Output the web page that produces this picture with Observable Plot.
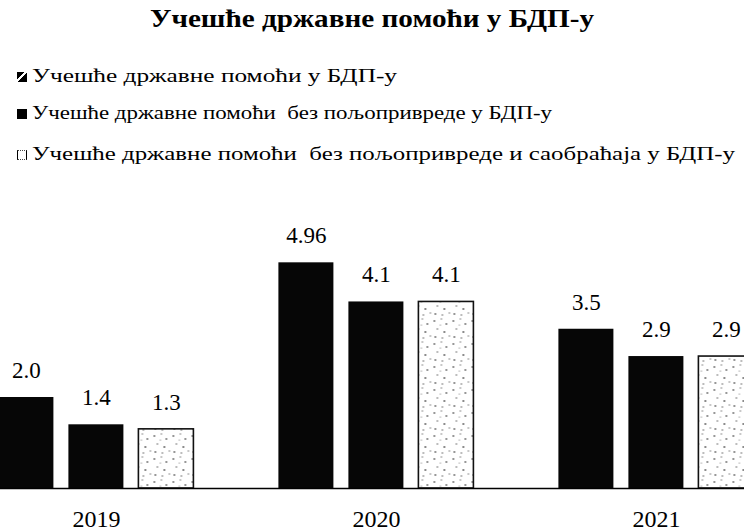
<!DOCTYPE html>
<html>
<head>
<meta charset="utf-8">
<script src="https://cdn.jsdelivr.net/npm/d3@7"></script>
<script src="https://cdn.jsdelivr.net/npm/@observablehq/plot@0.6"></script>
<style>
  html, body { margin: 0; padding: 0; background: #fff; overflow: hidden; }
  #wrap { position: relative; width: 744px; height: 532px; overflow: hidden;
          font-family: "Liberation Serif", serif; color: #000; }
  #head { position: relative; width: 744px; height: 180px; }
  .fit { position: absolute; white-space: pre; line-height: 1; transform-origin: 0 0; }
  #title { font-weight: bold; font-size: 25px; }
  .leg { font-size: 18px; }
  .mk { position: absolute; width: 10px; height: 10px; box-sizing: border-box; }
  svg { display: block; overflow: hidden; }
  svg text { font-family: "Liberation Serif", serif !important; }
</style>
</head>
<body>
<div id="wrap">
  <div id="head"></div>
  <div id="chart"></div>
</div>
<script>
// ---- data ----
const titleText = "Учешће државне помоћи у БДП-у";
const years = ["2019", "2020", "2021"];
const seriesNames = [
  "Учешће државне помоћи у БДП-у",
  "Учешће државне помоћи  без пољопривреде у БДП-у",
  "Учешће државне помоћи  без пољопривреде и саобраћаја у БДП-у"
];
const totalShare = [2.0, 4.96, 3.5];
const withoutAgriculture = [1.4, 4.1, 2.9];
const withoutAgricultureTransport = [1.3, 4.1, 2.9];
const seriesValues = [totalShare, withoutAgriculture, withoutAgricultureTransport];

const rows = [];
years.forEach((year, i) => {
  seriesNames.forEach((s, k) => rows.push({ year, series: s, k, value: seriesValues[k][i] }));
});

const fmt = v => Math.abs(v * 10 - Math.round(v * 10)) < 1e-9 ? v.toFixed(1) : String(v);

// ---- header (title + legend) ----
const head = document.getElementById("head");
function fitText(el, left, right) {
  el.style.left = left + "px";
  const w = el.getBoundingClientRect().width;
  el.style.transform = `scaleX(${(right - left) / w})`;
}
const title = document.createElement("div");
title.id = "title"; title.className = "fit"; title.textContent = titleText;
title.style.top = "6px";
head.appendChild(title);
fitText(title, 150, 594);

const legTops = [67, 104, 145];
const legRights = [397, 552, 735];
const markerStyles = [
  "background: linear-gradient(135deg, #000 40%, #fff 40%, #fff 55%, #000 55%);",
  "background: #000;",
  "background: #fff; border-left: 1.5px solid #000; border-right: 1.5px solid #000; border-top: 1px dotted #444; border-bottom: 1px dotted #444;"
];
seriesNames.forEach((s, k) => {
  const mk = document.createElement("div");
  mk.className = "mk";
  mk.style.cssText += markerStyles[k];
  mk.style.left = "17px";
  mk.style.top = (legTops[k] + 5) + "px";
  head.appendChild(mk);
  const t = document.createElement("div");
  t.className = "fit leg"; t.textContent = s;
  t.style.top = legTops[k] + "px";
  head.appendChild(t);
  fitText(t, 32, legRights[k]);
});

// ---- chart ----
const plot = Plot.plot({
  width: 744,
  height: 352,
  marginTop: 80.5,
  marginBottom: 44,
  marginLeft: -2.4,
  marginRight: -10.9,
  style: { fontFamily: "Liberation Serif, serif", background: "#fff", color: "#000", overflow: "hidden" },
  fx: { domain: years, paddingInner: 0.3, paddingOuter: 0, label: null },
  x: { domain: seriesNames, paddingInner: 0.22, paddingOuter: 0, axis: null },
  y: { domain: [0, 5], axis: null },
  marks: [
    Plot.barY(rows.filter(d => d.k < 2), { fx: "year", x: "series", y: "value", fill: "#060606" }),
    Plot.barY(rows.filter(d => d.k === 2), { fx: "year", x: "series", y: "value", fill: "url(#speckle)", stroke: "#111", strokeWidth: 1.6 }),
    Plot.frame({ anchor: "bottom", facet: "super", stroke: "#000", strokeWidth: 1.5 }),
    Plot.text(rows, { fx: "year", x: "series", y: "value", text: d => fmt(d.value), dy: -27, fontSize: 23, fill: "#000" }),
    Plot.axisFx({ anchor: "bottom", tickSize: 0, tickPadding: 21, fontSize: 24, label: null })
  ]
});

const defs = d3.select(plot).insert("defs", ":first-child");
const pat = defs.append("pattern").attr("id", "speckle")
  .attr("patternUnits", "userSpaceOnUse").attr("width", 19).attr("height", 23);
pat.append("rect").attr("width", 19).attr("height", 23).attr("fill", "#fff");
[[2, 3, 0.9], [9, 1, 0.7], [14, 6, 0.9], [5, 11, 0.8], [12, 14, 1], [17, 18, 0.7], [3, 19, 0.9], [8, 7, 0.6], [10, 20, 0.8]]
  .forEach(([cx, cy, r]) => pat.append("circle").attr("cx", cx).attr("cy", cy).attr("r", r).attr("fill", "#666"));

document.getElementById("chart").appendChild(plot);
</script>
</body>
</html>
